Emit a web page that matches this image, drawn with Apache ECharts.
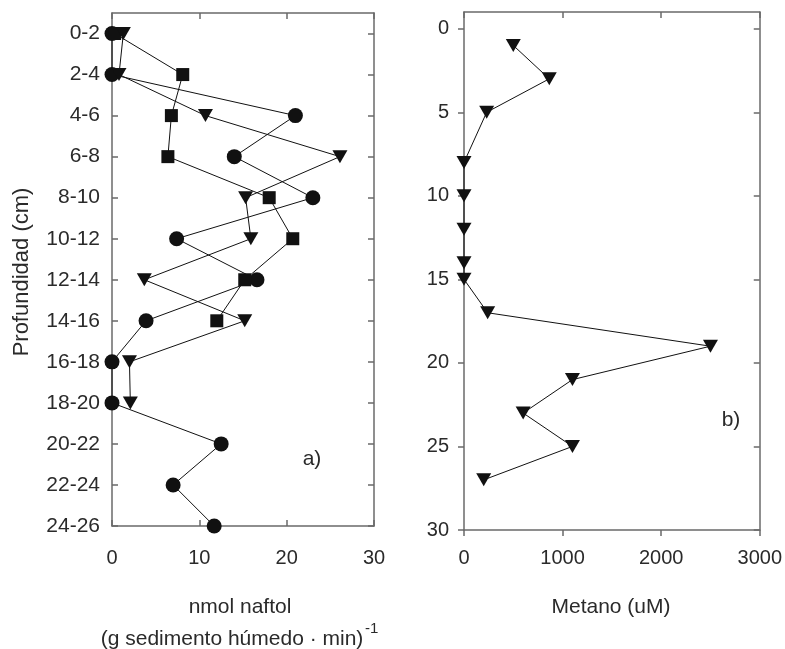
<!DOCTYPE html>
<html>
<head>
<meta charset="utf-8">
<script src="https://cdn.jsdelivr.net/npm/echarts@6/dist/echarts.min.js"></script>
<style>html,body{margin:0;padding:0;background:#fff}#c{width:785px;height:649px}</style>
</head>
<body>
<div id="c"></div>
<script>
// ---- data: panel a) ----
const depthLabels = ['0-2','2-4','4-6','6-8','8-10','10-12','12-14','14-16','16-18','18-20','20-22','22-24','24-26'];
const depthMid = [1,3,5,7,9,11,13,15,17,19,21,23,25];
const circleVals = [0, 0, 21.0, 14.0, 23.0, 7.4, 16.6, 3.9, 0, 0, 12.5, 7.0, 11.7];
const squareVals = [0.3, 8.1, 6.8, 6.4, 18.0, 20.7, 15.2, 12.0];
const triangleVals = [1.3, 0.8, 10.7, 26.1, 15.3, 15.9, 3.7, 15.2, 2.0, 2.1];
const xTicksA = [0, 10, 20, 30];
// ---- data: panel b) ----
const methDepth = [1, 3, 5, 8, 10, 12, 14, 15, 17, 19, 21, 23, 25, 27];
const methVals = [500, 865, 230, 0, 0, 0, 0, 0, 240, 2500, 1100, 600, 1100, 200];
const yTicksB = [0, 5, 10, 15, 20, 25, 30];
const xTicksB = [0, 1000, 2000, 3000];

const FONT = "'Liberation Sans', Arial, sans-serif";
const TXT = '#2a2a2a';
const AX = '#6a6a6a';

function pairs(vals, ys){ return vals.map((v,i)=>[v, ys[i]]); }

const axLine = {show:true, onZero:false, lineStyle:{color:AX, width:1.5}};
function xAx(grid, pos, min, max, ticks, showLabel, inside, margin){
  return {type:'value', gridIndex:grid, position:pos, min:min, max:max,
    axisLine:axLine, splitLine:{show:false},
    axisTick:{show:true, inside:inside, length:6, customValues:ticks, lineStyle:{color:AX, width:1.5}},
    axisLabel:{show:showLabel, customValues:ticks, margin:margin, fontSize:20, color:TXT, fontFamily:FONT,
      formatter: v => String(v)}};
}
function yAx(grid, pos, min, max, ticks, showLabel, inside, margin, fmt, fs){
  return {type:'value', gridIndex:grid, position:pos, min:min, max:max, inverse:true,
    axisLine:axLine, splitLine:{show:false},
    axisTick:{show:true, inside:inside, length:6, customValues:ticks, lineStyle:{color:AX, width:1.5}},
    axisLabel:{show:showLabel, customValues:ticks, margin:margin, fontSize:fs||20, color:TXT, fontFamily:FONT,
      formatter: fmt || (v=>String(v))}};
}
const depthFmt = v => { const i = depthMid.indexOf(v); return i >= 0 ? depthLabels[i] : ''; };

function ser(name, x, y, data, symbol, size, rot){
  return {name:name, type:'line', xAxisIndex:x, yAxisIndex:y, data:data, clip:false,
    symbol:symbol, symbolSize:size, symbolRotate:rot||0, showSymbol:true,
    lineStyle:{color:'#111', width:1}, itemStyle:{color:'#111'}, z:3, animation:false};
}

const chart = echarts.init(document.getElementById('c'), null, {renderer:'canvas'});
chart.setOption({
  animation:false,
  backgroundColor:'#fff',
  grid:[
    {left:112, top:13, width:262, height:513},
    {left:464, top:12, width:296, height:518}
  ],
  xAxis:[
    xAx(0,'bottom',0,30,xTicksA,true,true,22),
    xAx(0,'top',0,30,xTicksA,false,true,8),
    xAx(1,'bottom',0,3000,xTicksB,true,false,18),
    xAx(1,'top',0,3000,xTicksB,false,true,8)
  ],
  yAxis:[
    yAx(0,'left',0,25,depthMid,true,true,12,depthFmt,21),
    yAx(0,'right',0,25,depthMid,false,true,8),
    yAx(1,'left',-1,30,yTicksB,true,false,15),
    yAx(1,'right',-1,30,yTicksB,false,true,8)
  ],
  series:[
    ser('circles',0,0,pairs(circleVals,depthMid),'circle',15),
    ser('squares',0,0,pairs(squareVals,depthMid),'rect',13),
    ser('triangles',0,0,pairs(triangleVals,depthMid),'triangle',[15,13],180),
    ser('metano',2,2,pairs(methVals,methDepth),'triangle',[15,13],180)
  ],
  graphic:[
    {type:'text', x:22, y:272, rotation:Math.PI/2, style:{text:'Profundidad (cm)', fontSize:22, fontFamily:FONT, fill:TXT, align:'center', verticalAlign:'middle'}},
    {type:'text', x:240, y:607, style:{text:'nmol naftol', fontSize:21, fontFamily:FONT, fill:TXT, align:'center', verticalAlign:'middle'}},
    {type:'text', x:232, y:639, style:{text:'(g sedimento húmedo · min)', fontSize:21, fontFamily:FONT, fill:TXT, align:'center', verticalAlign:'middle'}},
    {type:'text', x:365, y:629, style:{text:'-1', fontSize:15, fontFamily:FONT, fill:TXT, align:'left', verticalAlign:'middle'}},
    {type:'text', x:611, y:607, style:{text:'Metano (uM)', fontSize:21, fontFamily:FONT, fill:TXT, align:'center', verticalAlign:'middle'}},
    {type:'text', x:312, y:459, style:{text:'a)', fontSize:21, fontFamily:FONT, fill:TXT, align:'center', verticalAlign:'middle'}},
    {type:'text', x:731, y:420, style:{text:'b)', fontSize:21, fontFamily:FONT, fill:TXT, align:'center', verticalAlign:'middle'}}
  ]
});
</script>
</body>
</html>
